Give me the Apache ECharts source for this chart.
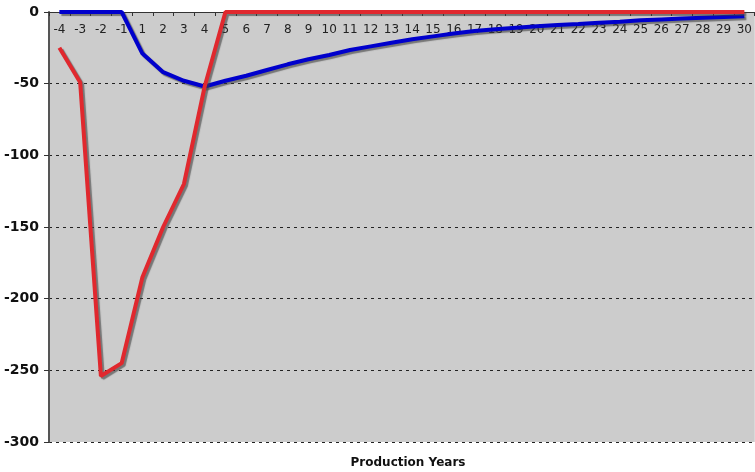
<!DOCTYPE html>
<html><head><meta charset="utf-8">
<script src="https://cdn.jsdelivr.net/npm/echarts@6/dist/echarts.min.js"></script>
<style>html,body{margin:0;padding:0;background:#fff}#c{width:755px;height:472px}</style>
</head><body><div id="c"></div>
<script>
const years = ['-4','-3','-2','-1','1','2','3','4','5','6','7','8','9','10','11','12','13','14','15','16','17','18','19','20','21','22','23','24','25','26','27','28','29','30'];
const redSeries = [-25,-49,-254,-245,-185,-150,-120,-52,0,0,0,0,0,0,0,0,0,0,0,0,0,0,0,0,0,0,0,0,0,0,0,0,0,0];
const blueSeries = [0,0,0,0,-29,-42,-48,-52,-48,-44.5,-40.5,-36.5,-33,-30,-26.5,-24,-21.5,-19,-17,-15,-13.3,-12,-11,-10,-9,-8.3,-7.5,-6.8,-5.8,-5.2,-4.6,-4,-3.5,-3];
const yTicks = {min:-300, max:0, interval:50};
const xTitle = 'Production Years';

const chart = echarts.init(document.getElementById('c'), null, {renderer:'canvas'});
const shadow = {shadowColor:'rgba(60,60,60,0.6)', shadowOffsetX:2, shadowOffsetY:2, shadowBlur:1};
chart.setOption({
  animation:false,
  backgroundColor:'#ffffff',
  title:{text:xTitle, left:403, textAlign:'center', top:452,
    textStyle:{fontFamily:'DejaVu Sans', fontSize:12, fontWeight:'bold', color:'#111'}},
  grid:{left:49, right:0, top:12, bottom:30, show:true, backgroundColor:'#cccccc', borderWidth:0},
  xAxis:{type:'category', data:years, position:'top', boundaryGap:true,
    axisLine:{show:true, lineStyle:{color:'#333', width:1}},
    axisTick:{show:true, inside:true, length:4, alignWithLabel:false, lineStyle:{color:'#333'}},
    axisLabel:{inside:true, margin:12, interval:0, fontFamily:'DejaVu Sans', fontSize:12, color:'#222'},
    splitLine:{show:false}},
  yAxis:{type:'value', min:yTicks.min, max:yTicks.max, interval:yTicks.interval,
    axisLine:{show:true, lineStyle:{color:'#555', width:2}},
    axisTick:{show:true, length:5, lineStyle:{color:'#333'}},
    axisLabel:{margin:10, fontFamily:'DejaVu Sans', fontSize:14, fontWeight:'bold', color:'#111'},
    splitLine:{show:true, lineStyle:{color:'#222', type:[3,4], width:1}}},
  series:[
    {type:'line', data:blueSeries, symbol:'none', z:3,
      lineStyle:Object.assign({color:'#0000cc', width:4}, shadow)},
    {type:'line', data:redSeries, symbol:'none', z:4,
      lineStyle:Object.assign({color:'#e0282e', width:4}, shadow)}
  ]
});
</script></body></html>
